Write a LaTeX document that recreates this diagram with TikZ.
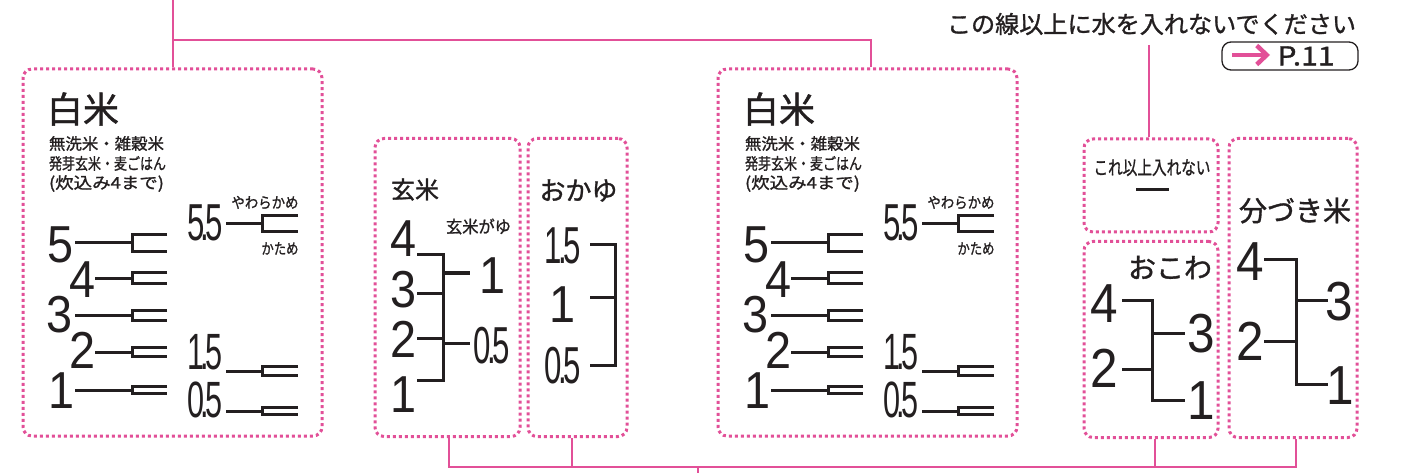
\documentclass[tikz,border=0pt]{standalone}
\usepackage{fontspec}
\usepackage{graphicx}
\setmainfont{Noto Sans CJK JP}
\newfontfamily\jpm{Noto Sans CJK JP}[FakeBold=1.2]
\newfontfamily\digitfont{Liberation Sans}
\usetikzlibrary{arrows.meta}
\definecolor{pk}{RGB}{226,80,152}
\definecolor{ink}{RGB}{35,31,32}
\newcommand\fitw[2]{\resizebox{#1}{\height}{#2}}
\newcommand\dg[2][52]{{\fontsize{#1}{#1}\selectfont\digitfont\scalebox{0.9}[1]{#2}}}
\newcommand\dc[3][52]{{\fontsize{#1}{#1}\selectfont\digitfont\scalebox{0.6}[1]{#2\kern-0.12em.\kern-0.12em#3}}}
\newcommand\brk[5]{%
  \draw[tk] (#1,#4) -- (#2,#4);
  \draw[tk] (#3,{#4-#5}) -- (#2,{#4-#5}) -- (#2,{#4+#5}) -- (#3,{#4+#5});}
\newcommand\riceblock[2]{%
\begin{scope}[xshift=#1]
  \node[txt,font=\fontsize{36}{36}\selectfont\jpm,anchor=west] (#2title) at (47,109) {白米};
  \node[txt,font=\fontsize{16}{16}\selectfont\jpm,anchor=west] (#2sub1) at (49,143.5) {\fitw{115pt}{無洗米・雑穀米}};
  \node[txt,font=\fontsize{16}{16}\selectfont\jpm,anchor=west] (#2sub2) at (49,163.5) {\fitw{117pt}{発芽玄米・麦ごはん}};
  \node[txt,font=\fontsize{16}{16}\selectfont\jpm,anchor=west] (#2sub3) at (49,183.5) {\fitw{115pt}{(炊込み4まで)}};
  \node[txt,anchor=base] (#2n5) at (61,262) {\dg{5}};
  \node[txt,anchor=base] (#2n4) at (83,298) {\dg{4}};
  \node[txt,anchor=base] (#2n3) at (60,332) {\dg{3}};
  \node[txt,anchor=base] (#2n2) at (83,368) {\dg{2}};
  \node[txt,anchor=base] (#2n1) at (62,408) {\dg{1}};
  \brk{75}{132}{167}{243}{8.5}
  \brk{95}{132}{167}{278}{5.5}
  \brk{75}{132}{167}{315}{5}
  \brk{95}{132}{167}{352}{4.5}
  \brk{75}{132}{167}{390}{3.5}
  \node[txt,anchor=base] (#2n55) at (205,241) {\dc{5}{5}};
  \node[txt,font=\fontsize{15}{15}\selectfont\jpm] (#2soft) at (265,202.5) {\fitw{67pt}{やわらかめ}};
  \node[txt,font=\fontsize{15}{15}\selectfont\jpm] (#2hard) at (280,248.5) {\fitw{37pt}{かため}};
  \brk{226}{262}{298}{224}{8}
  \node[txt,anchor=base] (#2n15) at (205,369.5) {\dc[51]{1}{5}};
  \brk{226}{262}{298}{371}{4.5}
  \node[txt,anchor=base] (#2n05) at (205,417) {\dc[51]{0}{5}};
  \brk{226}{262}{298}{411}{3.5}
\end{scope}}
\begin{document}
\begin{tikzpicture}[x=1pt,y=-1pt,
  txt/.style={inner sep=0pt,outer sep=0pt,text=ink},
  dotbox/.style={draw=pk,line width=3pt,dash pattern=on 3pt off 3pt,rounded corners=9pt,inner sep=0pt},
  conn/.style={draw=pk,line width=2.5pt},
  tk/.style={draw=ink,line width=3pt}]
\useasboundingbox (0,0) rectangle (1414,473);

% boxes
\node[dotbox,minimum width=299pt,minimum height=367pt] (b1) at (172.5,252.5) {};
\node[dotbox,minimum width=145pt,minimum height=298pt] (b2) at (447.5,287.5) {};
\node[dotbox,minimum width=99pt,minimum height=298pt] (b3) at (577.5,287.5) {};
\node[dotbox,minimum width=299pt,minimum height=367pt] (b4) at (867.5,252.5) {};
\node[dotbox,minimum width=134pt,minimum height=93pt] (b5) at (1151,185.5) {};
\node[dotbox,minimum width=134pt,minimum height=196pt] (b6) at (1151,339.5) {};
\node[dotbox,minimum width=128pt,minimum height=299pt] (b7) at (1293,288) {};

% top connectors
\coordinate (t1) at (173,0);
\coordinate (t4) at (871,40);
\draw[conn] (t1) -- (t1 |- b1.north);
\draw[conn] (t1 |- t4) -- (t4) -- (t4 |- b4.north);

% bottom connectors
\coordinate (bb2) at (449,467);
\coordinate (bb3) at (572,467);
\coordinate (bb6) at (1155,467);
\coordinate (bb7) at (1296,467);
\coordinate (stub) at (698,473);
\draw[conn] (bb2 |- b2.south) -- (bb2) -- (bb7) -- (bb7 |- b7.south);
\draw[conn] (bb3 |- b3.south) -- (bb3);
\draw[conn] (bb6 |- b6.south) -- (bb6);
\draw[conn] (stub |- bb2) -- (stub);

% top note
\node[txt,font=\fontsize{24}{24}\selectfont\jpm] (note) at (1151.5,24) {\fitw{409pt}{この線以上に水を入れないでください}};
\coordinate (n5) at (1149,45);
\draw[conn] (n5) -- (n5 |- b5.north);
\node[draw=ink,line width=1.3pt,rounded corners=9pt,minimum width=136pt,minimum height=28pt,inner sep=0pt] (pref) at (1290,56) {};
\coordinate (arrS) at (1232,55);
\coordinate (arrE) at (1270,55);
\draw[pk,line width=4.5pt,-{Straight Barb[length=10pt,width=19pt]}] (arrS) -- (arrE);
\node[txt,font=\fontsize{26}{26}\selectfont\jpm] (p11) at (1306,56) {\fitw{57pt}{P.11}};

% white rice blocks
\riceblock{0pt}{L}
\riceblock{696pt}{R}

% genmai
\node[txt,font=\fontsize{24}{24}\selectfont\jpm,anchor=west] (gtitle) at (391,189.5) {玄米};
\node[txt,font=\fontsize{17}{17}\selectfont\jpm] (gsub) at (478.5,226.5) {\fitw{65pt}{玄米がゆ}};
\node[txt,anchor=base] (g4) at (404,257) {\dg{4}};
\node[txt,anchor=base] (g3) at (404,307) {\dg{3}};
\node[txt,anchor=base] (g2) at (404,357) {\dg{2}};
\node[txt,anchor=base] (g1) at (404,412) {\dg{1}};
\node[txt,anchor=base] (gr1) at (493,293) {\dg{1}};
\node[txt,anchor=base] (gr05) at (491.5,363) {\dc{0}{5}};
\draw[tk] (417,255) -- (443,255) -- (443,380) -- (417,380);
\draw[tk] (417,293) -- (443,293);
\draw[tk] (417,338) -- (443,338);
\draw[tk] (443,273) -- (470,273);
\draw[tk] (443,343) -- (470,343);

% okayu
\node[txt,font=\fontsize{26}{26}\selectfont\jpm] (ktitle) at (578.5,190.5) {おかゆ};
\node[txt,anchor=base] (k15) at (562.5,263) {\dc{1}{5}};
\node[txt,anchor=base] (k1) at (563,322) {\dg{1}};
\node[txt,anchor=base] (k05) at (562.5,383) {\dc{0}{5}};
\draw[tk] (590,245) -- (615,245) -- (615,365) -- (590,365);
\draw[tk] (590,297) -- (615,297);

% no more
\node[txt,font=\fontsize{19}{19}\selectfont\jpm] (nomore) at (1152,167.5) {\fitw{117pt}{これ以上入れない}};
\draw[tk] (1136,190) -- (1169,190);

% okowa
\node[txt,font=\fontsize{28}{28}\selectfont\jpm] (owtitle) at (1170,267.5) {おこわ};
\node[txt,anchor=base] (o4) at (1104,322) {\dg[55]{4}};
\node[txt,anchor=base] (o2) at (1104,387) {\dg[55]{2}};
\node[txt,anchor=base] (o3) at (1201.5,352) {\dg[55]{3}};
\node[txt,anchor=base] (o1) at (1201.5,419) {\dg[55]{1}};
\draw[tk] (1122,300) -- (1152,300) -- (1152,400) -- (1185,400);
\draw[tk] (1122,369) -- (1152,369);
\draw[tk] (1152,333) -- (1185,333);

% bunzuki
\node[txt,font=\fontsize{28}{28}\selectfont\jpm] (btitle) at (1295,210.5) {分づき米};
\node[txt,anchor=base] (f4) at (1250,280) {\dg[55]{4}};
\node[txt,anchor=base] (f2) at (1250,360) {\dg[55]{2}};
\node[txt,anchor=base] (f3) at (1339.5,320) {\dg[55]{3}};
\node[txt,anchor=base] (f1) at (1340.5,404) {\dg[55]{1}};
\draw[tk] (1264,260) -- (1296,260) -- (1296,384) -- (1328,384);
\draw[tk] (1264,341) -- (1296,341);
\draw[tk] (1296,300) -- (1328,300);
\end{tikzpicture}
\end{document}
